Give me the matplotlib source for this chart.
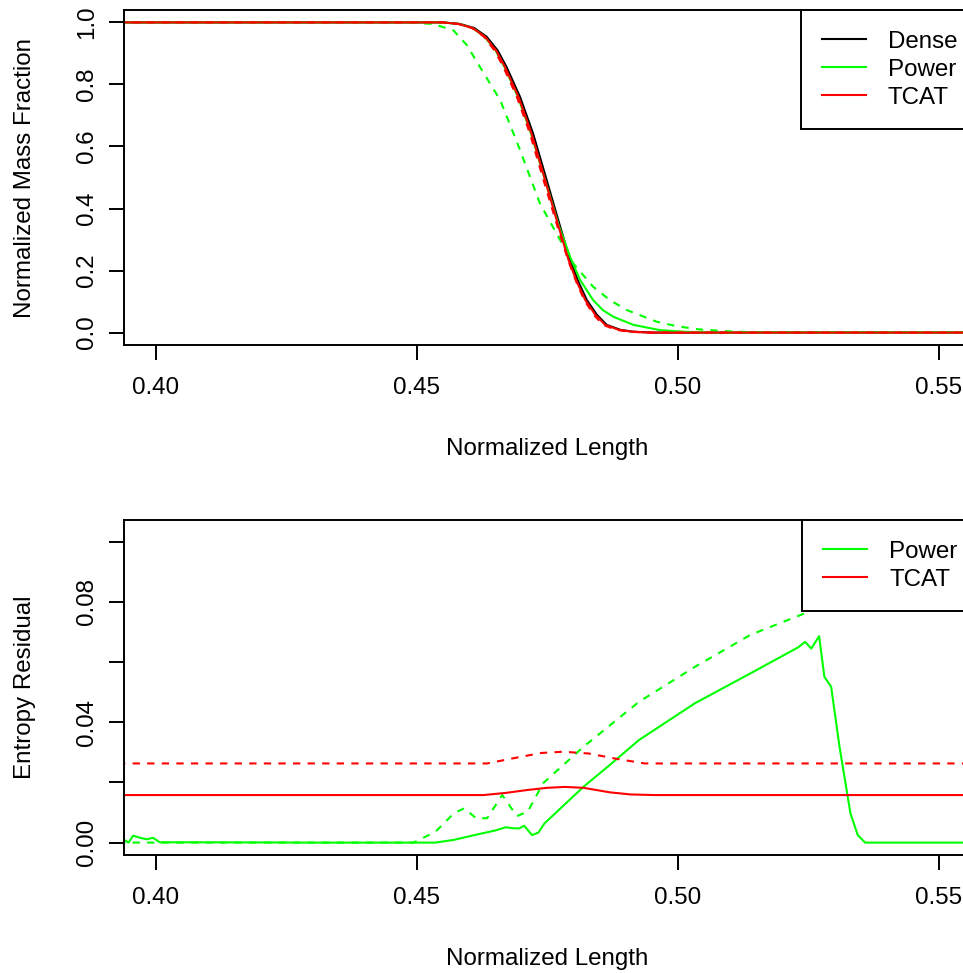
import matplotlib
matplotlib.use("Agg")
import matplotlib.pyplot as plt

plt.rcParams['font.family'] = ['Liberation Sans', 'DejaVu Sans']
plt.rcParams['font.size'] = 17.4

GREEN = '#00FF00'
RED = '#FF0000'

# --- mass fraction profiles ---
dense_x = [0.39, 0.455, 0.4583, 0.4610, 0.4634, 0.4655, 0.4672, 0.4698, 0.4723, 0.4749,
           0.4775, 0.4794, 0.4810, 0.4826, 0.4845, 0.4864, 0.4890, 0.4914, 0.4950, 0.56]
dense_y = [1.0, 1.0, 0.995, 0.982, 0.954, 0.910, 0.857, 0.760, 0.642, 0.492,
           0.341, 0.234, 0.163, 0.105, 0.058, 0.025, 0.009, 0.003, 0.0, 0.0]

tcat_x = [0.39, 0.455, 0.4580, 0.4607, 0.4631, 0.4652, 0.4669, 0.4695, 0.4720, 0.4746,
          0.4772, 0.4791, 0.4807, 0.4823, 0.4842, 0.4861, 0.4887, 0.4911, 0.4947, 0.56]
tcat_y = dense_y

tcat2_x = [0.39, 0.455, 0.4580, 0.4606, 0.4629, 0.4649, 0.4666, 0.4692, 0.4717, 0.4743,
           0.4770, 0.4790, 0.4806, 0.4821, 0.4839, 0.4857, 0.4882, 0.4906, 0.4940, 0.56]
tcat2_y = dense_y

power_x = [0.39, 0.455, 0.4581, 0.4607, 0.4630, 0.4651, 0.4668, 0.4694, 0.4719, 0.4746,
           0.4773, 0.4795, 0.4813, 0.4838, 0.4857, 0.4877, 0.4915, 0.4966, 0.5010, 0.5060, 0.56]
power_y = [1.0, 1.0, 0.995, 0.982, 0.954, 0.910, 0.857, 0.760, 0.642, 0.492,
           0.341, 0.240, 0.170, 0.105, 0.072, 0.051, 0.025, 0.008, 0.003, 0.0, 0.0]

power2_x = [0.39, 0.448, 0.4531, 0.4570, 0.4596, 0.4621, 0.4660, 0.4698, 0.4736, 0.4775,
            0.4800, 0.4838, 0.4870, 0.4902, 0.4960, 0.5000, 0.5043, 0.5100, 0.5150, 0.56]
power2_y = [1.0, 1.0, 0.995, 0.975, 0.927, 0.857, 0.750, 0.589, 0.417, 0.298,
            0.223, 0.148, 0.105, 0.073, 0.035, 0.020, 0.010, 0.004, 0.001, 0.0]

# --- entropy residuals ---
res_power_x = [0.390, 0.394, 0.3948, 0.3957, 0.3970, 0.3983, 0.3995, 0.4008, 0.4100, 0.4300,
               0.4536, 0.4571, 0.4621, 0.4650, 0.4671, 0.4683, 0.4696, 0.4706, 0.4721, 0.4733,
               0.4745, 0.4820, 0.4870, 0.4926, 0.5033, 0.5139, 0.5231, 0.5244, 0.5256, 0.5271,
               0.5281, 0.5294, 0.5310, 0.5331, 0.5345, 0.5359, 0.56]
res_power_y = [0.0009, 0.0009, 0.0000, 0.0023, 0.0016, 0.0011, 0.0016, 0.0001, 0.0001, 0.0,
               0.0, 0.0009, 0.0029, 0.0040, 0.0051, 0.0048, 0.0047, 0.0056, 0.0025, 0.0033,
               0.0064, 0.0186, 0.0258, 0.0341, 0.0463, 0.0562, 0.0649, 0.0667, 0.0645, 0.0686,
               0.0551, 0.0518, 0.0319, 0.0097, 0.0025, 0.0, 0.0]

res_power2_x = [0.390, 0.4494, 0.4536, 0.4571, 0.4591, 0.4614, 0.4635, 0.4664, 0.4692, 0.4713,
                0.4742, 0.4820, 0.4926, 0.5033, 0.5139, 0.5267, 0.5400, 0.5560]
res_power2_y = [0.0, 0.0, 0.0036, 0.0097, 0.0114, 0.0081, 0.0081, 0.0158, 0.0088, 0.0103,
                0.0197, 0.0319, 0.0468, 0.0584, 0.0690, 0.0778, 0.0870, 0.0980]

res_tcat_x = [0.39, 0.4628, 0.4670, 0.4713, 0.4750, 0.4784, 0.4820, 0.4870, 0.4910, 0.4955, 0.56]
res_tcat_y = [0.0158, 0.0158, 0.0165, 0.0175, 0.0182, 0.0185, 0.0182, 0.0167, 0.0160, 0.0158, 0.0158]

res_tcat2_x = [0.39, 0.4635, 0.4699, 0.4740, 0.4781, 0.4830, 0.4884, 0.4937, 0.56]
res_tcat2_y = [0.0263, 0.0263, 0.0285, 0.0298, 0.0302, 0.0296, 0.0278, 0.0263, 0.0263]

x_ticks = [0.40, 0.45, 0.50, 0.55]
top_yticks = [0.0, 0.2, 0.4, 0.6, 0.8, 1.0]
bot_yticks = [0.00, 0.02, 0.04, 0.06, 0.08, 0.10]
bot_ylabels = ['0.00', '', '0.04', '', '0.08', '']

W, H = 963, 973
fig = plt.figure(figsize=(W / 100, H / 100), dpi=100)

# axes run a little past the right edge of the canvas
AX_W = 970 - 124.3
ax1 = fig.add_axes([124.3 / W, (H - 345) / H, AX_W / W, 335 / H])
ax2 = fig.add_axes([124.3 / W, (H - 855) / H, AX_W / W, 335 / H])

LW = 1.5
DASH = (3.5, 3.5)


def style(ax):
    for s in ax.spines.values():
        s.set_linewidth(1.4)
        s.set_color('black')
    ax.set_xticks(x_ticks)
    ax.set_xticklabels(['%.2f' % v for v in x_ticks])
    ax.tick_params(axis='both', length=10.8, width=1.4, direction='out')
    ax.tick_params(axis='x', pad=12)
    ax.tick_params(axis='y', pad=8, labelrotation=90)
    for lab in ax.get_yticklabels():
        lab.set_va('center')


# top panel
ax1.plot(dense_x, dense_y, color='black', lw=LW, label='Dense')
ax1.plot(power_x, power_y, color=GREEN, lw=LW, label='Power')
ax1.plot(power2_x, power2_y, color=GREEN, lw=LW, dashes=DASH)
ax1.plot(tcat_x, tcat_y, color=RED, lw=LW, label='TCAT')
ax1.plot(tcat2_x, tcat2_y, color=RED, lw=LW, dashes=DASH)
ax1.set_xlim(0.394, 0.556)
ax1.set_ylim(-0.04, 1.04)
ax1.set_yticks(top_yticks)
ax1.set_yticklabels(['%.1f' % v for v in top_yticks])
style(ax1)

# bottom panel
ax2.plot(res_power_x, res_power_y, color=GREEN, lw=LW, label='Power')
ax2.plot(res_power2_x, res_power2_y, color=GREEN, lw=LW, dashes=DASH)
ax2.plot(res_tcat_x, res_tcat_y, color=RED, lw=LW, label='TCAT')
ax2.plot(res_tcat2_x, res_tcat2_y, color=RED, lw=LW, dashes=DASH)
ax2.set_xlim(0.394, 0.556)
ax2.set_ylim(-0.00412, 0.1072)
ax2.set_yticks(bot_yticks)
ax2.set_yticklabels(bot_ylabels)
style(ax2)

for ax in (ax1, ax2):
    leg = ax.legend(loc='upper right', bbox_to_anchor=(1 + 8 / AX_W, 1),
                    borderaxespad=0, fancybox=False, framealpha=1,
                    edgecolor='black', borderpad=0.85, handlelength=1.84,
                    handletextpad=0.91, labelspacing=0.25)
    leg.get_frame().set_linewidth(1.4)
    leg.set_zorder(5)

# axis titles
cx = (124.3 + 970) / 2 / W
fig.text(cx, 1 - 449 / H, 'Normalized Length', ha='center', va='center')
fig.text(cx, 1 - 959 / H, 'Normalized Length', ha='center', va='center')
fig.text(25 / W, 1 - 177.5 / H, 'Normalized Mass Fraction', rotation=90, ha='center', va='center')
fig.text(25 / W, 1 - 687.5 / H, 'Entropy Residual', rotation=90, ha='center', va='center')

fig.savefig('out.png', dpi=100)
